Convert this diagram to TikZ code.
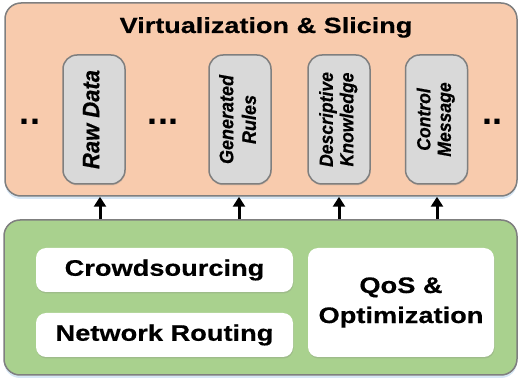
\documentclass[tikz,border=0pt]{standalone}
\usepackage{fontspec}
\setmainfont{Liberation Sans}
\newfontfamily\wfont[FakeStretch=1.21, FakeBold=0.4]{Liberation Sans Bold}
\newfontfamily\tfont[FakeStretch=1.23, FakeBold=0.4]{Liberation Sans Bold}
\newfontfamily\rfont[FakeBold=0.6]{Liberation Sans Bold Italic}
\newfontfamily\dfont{Liberation Sans Bold}
\usetikzlibrary{shadows,arrows.meta}
\definecolor{orangefill}{HTML}{F8CBAD}
\definecolor{greenfill}{HTML}{A9D18E}
\definecolor{grayfill}{HTML}{D9D9D9}
\definecolor{edgegray}{HTML}{7F7F7F}
\definecolor{shadowblue}{HTML}{BDD7EE}
\newcommand{\vlabel}[3]{\rotatebox{90}{\scalebox{1}[1.08]{\rfont\fontsize{#1}{#2}\selectfont\begin{tabular}{@{}c@{}}#3\end{tabular}}}}
\tikzset{
  layer/.style={draw=edgegray, line width=1.5pt, rounded corners=16pt, inner sep=0pt,
    drop shadow={shadow xshift=0pt, shadow yshift=-3pt, fill=shadowblue, opacity=0.6}},
  itembox/.style={draw=edgegray, line width=1.5pt, fill=grayfill, rounded corners=14pt,
    minimum width=62pt, minimum height=129pt, inner sep=0pt,
    drop shadow={shadow xshift=0.5pt, shadow yshift=-1.5pt, opacity=0.2}},
  funcbox/.style={fill=white, rounded corners=10pt, inner sep=0pt, align=center,
    font=\wfont\fontsize{22.5}{30}\selectfont,
    drop shadow={shadow xshift=0.5pt, shadow yshift=-1.5pt, opacity=0.25}},
  dots/.style={font=\dfont\fontsize{36}{36}\selectfont, inner sep=0pt, anchor=base},
  uparrow/.style={line width=3pt, -{Triangle[width=12pt,length=10pt]}}
}
\begin{document}
\begin{tikzpicture}[x=1pt, y=-1pt]
\useasboundingbox (0,0) rectangle (520,382);
% layers
\node[layer, fill=orangefill, minimum width=512pt, minimum height=193pt] (virt) at (261,99.5) {};
\node[layer, fill=greenfill, minimum width=513pt, minimum height=155pt] (base) at (260.5,297.5) {};
% title
\node[anchor=base, inner sep=0pt, font=\tfont\fontsize{22}{26}\selectfont] (title) at (266,33) {Virtualization \& Slicing};
% items
\node[itembox] (raw) at (94,119.5) {\vlabel{22}{24}{Raw Data}};
\node[itembox] (rules) at (240,119.5) {\vlabel{18}{21}{Generated\\Rules}};
\node[itembox] (know) at (339,119.5) {\vlabel{17.6}{19}{Descriptive\\Knowledge}};
\node[itembox] (ctrl) at (436.5,119.5) {\vlabel{17.6}{19}{Control\\Message}};
% dots
\node[dots] (d1) at (30,125) {..};
\node[dots] (d2) at (163,125) {...};
\node[dots] (d3) at (492,125) {..};
% functions
\node[funcbox, minimum width=257pt, minimum height=44pt] (crowd) at (164.5,270) {Crowdsourcing};
\node[funcbox, minimum width=257pt, minimum height=44pt] (route) at (164.5,335) {Network Routing};
\node[funcbox, minimum width=186pt, minimum height=109pt] (qos) at (401,302.5) {QoS \&\\Optimization};
% arrows
\coordinate (a1) at (100,0);
\coordinate (a2) at (239,0);
\coordinate (a3) at (339,0);
\coordinate (a4) at (437,0);
\foreach \a in {a1,a2,a3,a4}
  \draw[uparrow] (base.north -| \a) -- (virt.south -| \a);
\end{tikzpicture}
\end{document}
